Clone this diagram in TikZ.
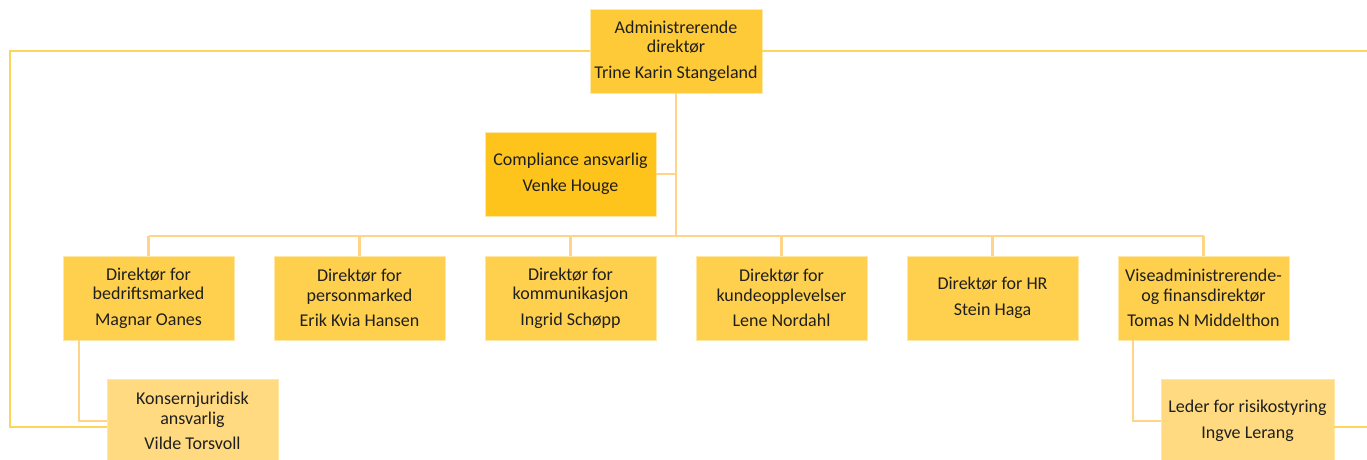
\documentclass[tikz,border=0pt]{standalone}
\usepackage{fontspec}
\setmainfont{Carlito}
\definecolor{txt}{HTML}{1F1F1F}
\definecolor{ceofill}{HTML}{FFCA38}
\definecolor{compfill}{HTML}{FFC41C}
\definecolor{dirfill}{HTML}{FFD04E}
\definecolor{subfill}{HTML}{FFDA80}
\definecolor{edgeline}{HTML}{FFE7A6}
\definecolor{wire}{HTML}{FFD488}
\definecolor{loopwire}{HTML}{FFD45A}
\tikzset{
  orgbox/.style={rectangle, draw=edgeline, line width=0.8pt, minimum width=171, minimum height=84,
    inner sep=0pt, align=center, text=txt, font=\fontsize{18}{19.5}\selectfont},
  ceobox/.style={orgbox, fill=ceofill, minimum width=172},
  compbox/.style={orgbox, fill=compfill},
  dirbox/.style={orgbox, fill=dirfill},
  subbox/.style={orgbox, fill=subfill},
  wireline/.style={draw=wire, line width=2.2pt},
  loopline/.style={draw=loopwire, line width=2.2pt},
}
\begin{document}
\begin{tikzpicture}[x=1pt, y=-1pt]
\useasboundingbox (0,0) rectangle (1367,459);
\clip (0,0) rectangle (1367,459);

% boxes
\node[ceobox]  (ceo)  at (676,51)    {Administrerende\\direktør\\[6pt]Trine Karin Stangeland};
\node[compbox] (comp) at (570.5,174) {Compliance ansvarlig\\[6pt]Venke Houge};
\node[dirbox]  (d1) at (148.5,298)  {Direktør for\\bedriftsmarked\\[6pt]Magnar Oanes};
\node[dirbox]  (d2) at (359.5,298)  {Direktør for\\personmarked\\[6pt]Erik Kvia Hansen};
\node[dirbox]  (d3) at (570.5,298)  {Direktør for\\kommunikasjon\\[6pt]Ingrid Schøpp};
\node[dirbox]  (d4) at (781.5,298)  {Direktør for\\kundeopplevelser\\[6pt]Lene Nordahl};
\node[dirbox]  (d5) at (992.5,298)  {Direktør for HR\\[6pt]Stein Haga};
\node[dirbox]  (d6) at (1203.5,298) {Viseadministrerende-\\og finansdirektør\\[6pt]Tomas N Middelthon};
\node[subbox]  (jur)  at (192.5,421)  {Konsernjuridisk\\ansvarlig\\[6pt]Vilde Torsvoll};
\node[subbox, minimum width=173] (risk) at (1247.5,421) {Leder for risikostyring\\[6pt]Ingve Lerang};

% reporting lines
\coordinate (bus) at (676,236);
\draw[wireline] (ceo.south) -- (bus);
\draw[wireline] (comp.east) -- (comp.east -| ceo.south);
\draw[wireline] (d1.north |- bus) -- (d6.north |- bus);
\foreach \d in {d1,d2,d3,d4,d5,d6}
  \draw[wireline] (\d.north) -- (\d.north |- bus);
\draw[wireline] ([xshift=16pt]d1.south west) |- (jur.west);
\draw[wireline] ([xshift=15pt]d6.south west) |- (risk.west);

% outer loop around the chart
\coordinate (loopL) at (10,427);
\coordinate (loopR) at (1367,427);
\draw[loopline] (ceo.west) -| (loopL) -- (loopL -| jur.west);
\draw[loopline] (ceo.east) -- (ceo.east -| loopR);
\draw[loopline] (loopR -| risk.east) -- (loopR);
\end{tikzpicture}
\end{document}
